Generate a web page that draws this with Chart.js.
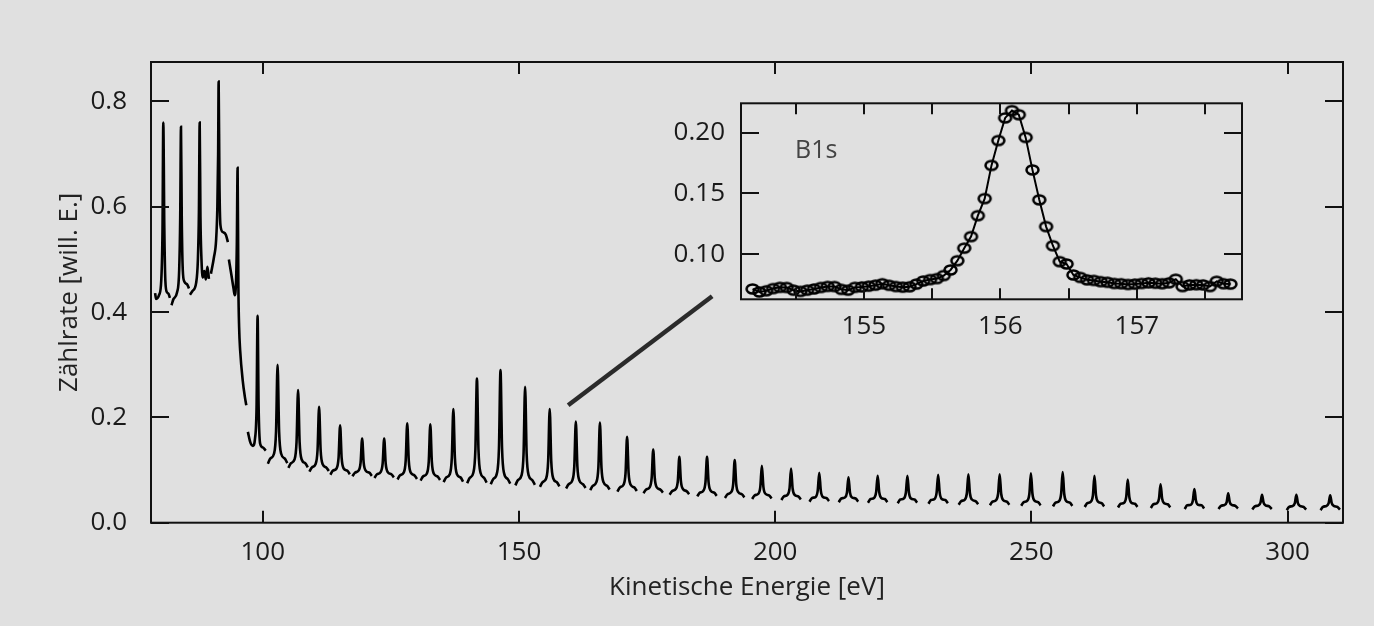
<!DOCTYPE html>
<html>
<head>
<meta charset="utf-8">
<script src="https://cdn.jsdelivr.net/npm/chart.js@4.4.1/dist/chart.umd.min.js"></script>
<style>
  body { margin: 0; background: #e0e0e0; }
  #wrap { position: relative; width: 1374px; height: 626px; background: #e0e0e0; }
  #spectrum { position: absolute; left: 0; top: 0; }
  #inset { position: absolute; left: 640px; top: 50px; }
</style>
</head>
<body>
<div id="wrap">
  <canvas id="spectrum" width="1374" height="626"></canvas>
  <canvas id="inset" width="620" height="300"></canvas>
</div>
<script>
// scans below 100 eV, each one is [energy, count rate]
const scansLow = [
  [[79.0,0.436],[79.2,0.425],[79.8,0.433],[80.2,0.46],[80.45,0.56],[80.6,0.76],[80.8,0.56],[81.0,0.46],[81.3,0.438],[81.6,0.435],[81.9,0.427]],
  [[82.2,0.413],[82.6,0.425],[83.3,0.438],[83.7,0.48],[83.9,0.58],[84.05,0.752],[84.2,0.58],[84.4,0.48],[84.7,0.458],[85.3,0.452],[85.6,0.445]],
  [[85.8,0.433],[86.3,0.44],[87.0,0.455],[87.35,0.5],[87.55,0.59],[87.7,0.76],[87.85,0.58],[88.05,0.5],[88.3,0.466],[88.6,0.478],[88.9,0.462],[89.2,0.486],[89.5,0.463]],
  [[89.9,0.473],[90.5,0.505],[90.9,0.536],[91.15,0.6],[91.3,0.7],[91.4,0.838],[91.55,0.65],[91.75,0.565],[92.2,0.552],[92.8,0.547],[93.2,0.533]],
  [[93.4,0.5],[93.9,0.47],[94.3,0.445],[94.55,0.432],[94.8,0.46],[94.95,0.53],[95.1,0.674],[95.25,0.45],[95.4,0.37],[95.6,0.327],[96.1,0.27],[96.5,0.24],[96.8,0.223]],
  [[97.1,0.1725],[97.6,0.152],[98.1,0.146],[98.5,0.16],[98.8,0.22],[99.0,0.393],[99.2,0.22],[99.5,0.15],[100.0,0.143],[100.6,0.137]]
];

// scans 100 - 200 eV
const scansMid = [
  [[101.0,0.112],[101.5,0.122],[102.2,0.131],[102.6,0.173],[102.9,0.300],[103.2,0.173],[103.6,0.131],[104.3,0.122],[104.8,0.113]],
  [[105.0,0.104],[105.5,0.113],[106.2,0.120],[106.6,0.153],[106.9,0.252],[107.2,0.153],[107.6,0.120],[108.3,0.113],[108.8,0.105]],
  [[109.1,0.097],[109.6,0.105],[110.3,0.111],[110.7,0.138],[111.0,0.220],[111.3,0.138],[111.7,0.111],[112.4,0.105],[112.9,0.098]],
  [[113.2,0.091],[113.7,0.099],[114.4,0.103],[114.8,0.123],[115.1,0.185],[115.4,0.123],[115.8,0.103],[116.5,0.099],[117.0,0.092]],
  [[117.5,0.088],[118.0,0.095],[118.7,0.099],[119.1,0.114],[119.4,0.160],[119.7,0.114],[120.1,0.099],[120.8,0.095],[121.3,0.089]],
  [[121.8,0.085],[122.3,0.092],[123.0,0.096],[123.4,0.112],[123.7,0.160],[124.0,0.112],[124.4,0.096],[125.1,0.092],[125.6,0.086]],
  [[126.3,0.082],[126.8,0.090],[127.5,0.095],[127.9,0.118],[128.2,0.189],[128.5,0.118],[128.9,0.095],[129.6,0.090],[130.1,0.083]],
  [[130.8,0.080],[131.3,0.088],[132.0,0.093],[132.4,0.116],[132.7,0.187],[133.0,0.116],[133.4,0.093],[134.1,0.088],[134.6,0.081]],
  [[135.3,0.077],[135.8,0.086],[136.5,0.092],[136.9,0.123],[137.2,0.216],[137.5,0.123],[137.9,0.092],[138.6,0.086],[139.1,0.078]],
  [[139.9,0.075],[140.4,0.085],[141.1,0.095],[141.5,0.139],[141.8,0.274],[142.1,0.139],[142.5,0.095],[143.2,0.085],[143.7,0.076]],
  [[144.5,0.073],[145.0,0.083],[145.7,0.094],[146.1,0.142],[146.4,0.290],[146.7,0.142],[147.1,0.094],[147.8,0.083],[148.3,0.074]],
  [[149.3,0.071],[149.8,0.081],[150.5,0.090],[150.9,0.131],[151.2,0.258],[151.5,0.131],[151.9,0.090],[152.6,0.081],[153.1,0.072]],
  [[154.1,0.068],[154.6,0.077],[155.3,0.084],[155.7,0.117],[156.0,0.216],[156.3,0.117],[156.7,0.084],[157.4,0.077],[157.9,0.069]],
  [[159.2,0.065],[159.7,0.073],[160.4,0.080],[160.8,0.107],[161.1,0.192],[161.4,0.107],[161.8,0.080],[162.5,0.073],[163.0,0.066]],
  [[163.9,0.062],[164.4,0.070],[165.1,0.077],[165.5,0.105],[165.8,0.190],[166.1,0.105],[166.5,0.077],[167.2,0.070],[167.7,0.063]],
  [[169.2,0.059],[169.7,0.067],[170.4,0.072],[170.8,0.094],[171.1,0.163],[171.4,0.094],[171.8,0.072],[172.5,0.067],[173.0,0.060]],
  [[174.3,0.056],[174.8,0.063],[175.5,0.067],[175.9,0.085],[176.2,0.139],[176.5,0.085],[176.9,0.067],[177.6,0.063],[178.1,0.057]],
  [[179.4,0.053],[179.9,0.060],[180.6,0.064],[181.0,0.079],[181.3,0.125],[181.6,0.079],[182.0,0.064],[182.7,0.060],[183.2,0.054]],
  [[184.8,0.050],[185.3,0.057],[186.0,0.061],[186.4,0.077],[186.7,0.125],[187.0,0.077],[187.4,0.061],[188.1,0.057],[188.6,0.051]],
  [[190.2,0.047],[190.7,0.054],[191.4,0.058],[191.8,0.073],[192.1,0.119],[192.4,0.073],[192.8,0.058],[193.5,0.054],[194.0,0.048]],
  [[195.5,0.045],[196.0,0.052],[196.7,0.055],[197.1,0.068],[197.4,0.108],[197.7,0.068],[198.1,0.055],[198.8,0.052],[199.3,0.046]]
];

// scans above 200 eV
const scansHigh = [
  [[201.2,0.043],[201.7,0.050],[202.4,0.053],[202.8,0.065],[203.1,0.103],[203.4,0.065],[203.8,0.053],[204.5,0.050],[205.0,0.044]],
  [[206.7,0.040],[207.2,0.047],[207.9,0.049],[208.3,0.061],[208.6,0.095],[208.9,0.061],[209.3,0.049],[210.0,0.047],[210.5,0.041]],
  [[212.4,0.039],[212.9,0.046],[213.6,0.048],[214.0,0.057],[214.3,0.086],[214.6,0.057],[215.0,0.048],[215.7,0.046],[216.2,0.040]],
  [[218.1,0.038],[218.6,0.045],[219.3,0.047],[219.7,0.058],[220.0,0.089],[220.3,0.058],[220.7,0.047],[221.4,0.045],[221.9,0.039]],
  [[223.9,0.037],[224.4,0.044],[225.1,0.046],[225.5,0.057],[225.8,0.089],[226.1,0.057],[226.5,0.046],[227.2,0.044],[227.7,0.038]],
  [[229.9,0.036],[230.4,0.043],[231.1,0.045],[231.5,0.057],[231.8,0.091],[232.1,0.057],[232.5,0.045],[233.2,0.043],[233.7,0.037]],
  [[235.8,0.034],[236.3,0.041],[237.0,0.044],[237.4,0.056],[237.7,0.092],[238.0,0.056],[238.4,0.044],[239.1,0.041],[239.6,0.035]],
  [[241.9,0.033],[242.4,0.040],[243.1,0.043],[243.5,0.055],[243.8,0.092],[244.1,0.055],[244.5,0.043],[245.2,0.040],[245.7,0.034]],
  [[248.0,0.032],[248.5,0.039],[249.2,0.042],[249.6,0.055],[249.9,0.094],[250.2,0.055],[250.6,0.042],[251.3,0.039],[251.8,0.033]],
  [[254.2,0.031],[254.7,0.038],[255.4,0.041],[255.8,0.055],[256.1,0.096],[256.4,0.055],[256.8,0.041],[257.5,0.038],[258.0,0.032]],
  [[260.4,0.030],[260.9,0.037],[261.6,0.040],[262.0,0.052],[262.3,0.089],[262.6,0.052],[263.0,0.040],[263.7,0.037],[264.2,0.031]],
  [[266.9,0.029],[267.4,0.036],[268.1,0.038],[268.5,0.049],[268.8,0.082],[269.1,0.049],[269.5,0.038],[270.2,0.036],[270.7,0.030]],
  [[273.3,0.028],[273.8,0.035],[274.5,0.037],[274.9,0.046],[275.2,0.073],[275.5,0.046],[275.9,0.037],[276.6,0.035],[277.1,0.029]],
  [[279.9,0.026],[280.4,0.033],[281.1,0.034],[281.5,0.042],[281.8,0.064],[282.1,0.042],[282.5,0.034],[283.2,0.033],[283.7,0.027]],
  [[286.5,0.026],[287.0,0.032],[287.7,0.034],[288.1,0.039],[288.4,0.056],[288.7,0.039],[289.1,0.034],[289.8,0.032],[290.3,0.027]],
  [[293.1,0.025],[293.6,0.031],[294.3,0.033],[294.7,0.038],[295.0,0.053],[295.3,0.038],[295.7,0.033],[296.4,0.031],[296.9,0.026]],
  [[299.8,0.024],[300.3,0.030],[301.0,0.032],[301.4,0.037],[301.7,0.053],[302.0,0.037],[302.4,0.032],[303.1,0.030],[303.6,0.025]],
  [[306.4,0.024],[306.9,0.030],[307.6,0.032],[308.0,0.037],[308.3,0.052],[308.6,0.037],[309.0,0.032],[309.7,0.030],[310.2,0.025]]
];

// pointer from the B1s scan up to the inset
const zoomLine = [[159.6, 0.223], [187.7, 0.43]];

const xTicksMain = [100, 150, 200, 250, 300];
const yTicksMain = [0, 0.2, 0.4, 0.6, 0.8];

// B1s detail scan
const b1sEnergy = [
  154.185, 154.235, 154.285, 154.335, 154.385, 154.435, 154.485, 154.535, 154.585, 154.635,
  154.685, 154.735, 154.785, 154.835, 154.885, 154.935, 154.985, 155.035, 155.085, 155.135,
  155.185, 155.235, 155.285, 155.335, 155.385, 155.435, 155.485, 155.535, 155.585, 155.635,
  155.685, 155.735, 155.785, 155.835, 155.885, 155.935, 155.985, 156.035, 156.085, 156.135,
  156.185, 156.235, 156.285, 156.335, 156.385, 156.435, 156.485, 156.535, 156.585, 156.635,
  156.685, 156.735, 156.785, 156.835, 156.885, 156.935, 156.985, 157.035, 157.085, 157.135,
  157.185, 157.235, 157.285, 157.335, 157.385, 157.435, 157.485, 157.535, 157.585, 157.635,
  157.685
];
const b1sCounts = [
  0.0715, 0.069, 0.070, 0.0718, 0.0728, 0.0727, 0.0705, 0.0695, 0.0705, 0.0715,
  0.0727, 0.0736, 0.0735, 0.0712, 0.0705, 0.0728, 0.0732, 0.0738, 0.0746, 0.0758,
  0.0745, 0.0735, 0.073, 0.0733, 0.0755, 0.078, 0.0792, 0.080, 0.0825, 0.0871,
  0.0947, 0.105, 0.1145, 0.1317, 0.1457, 0.173, 0.1934, 0.212, 0.218, 0.2146,
  0.196, 0.1693, 0.1447, 0.1227, 0.107, 0.0939, 0.092, 0.083, 0.081, 0.079,
  0.0785, 0.0775, 0.077, 0.076, 0.0758, 0.0752, 0.0755, 0.076, 0.0765, 0.0762,
  0.0758, 0.0765, 0.0795, 0.0735, 0.0748, 0.075, 0.0748, 0.0735, 0.0778, 0.0758,
  0.0755
];
const xTicksInset = [154.5, 155, 155.5, 156, 156.5, 157, 157.5];
const yTicksInset = [0.10, 0.15, 0.20];

const FONT = "'Open Sans', sans-serif";
const INK = '#1a1a1a';

// box around the plot + ticks pointing inwards on all four sides
const frameTicks = {
  id: 'frameTicks',
  afterDatasetsDraw(chart, args, opts) {
    const { ctx, chartArea: a } = chart;
    const x = chart.scales.x, y = chart.scales.y;
    ctx.save();
    ctx.strokeStyle = '#111';
    ctx.lineWidth = 2;
    ctx.beginPath();
    x.ticks.forEach(t => {
      const px = Math.round(x.getPixelForValue(t.value));
      ctx.moveTo(px, a.bottom); ctx.lineTo(px, a.bottom - opts.xLen);
      ctx.moveTo(px, a.top); ctx.lineTo(px, a.top + opts.xLen);
    });
    y.ticks.forEach(t => {
      const py = Math.round(y.getPixelForValue(t.value));
      ctx.moveTo(a.left, py); ctx.lineTo(a.left + opts.yLen, py);
      ctx.moveTo(a.right, py); ctx.lineTo(a.right - opts.yLen, py);
    });
    ctx.stroke();
    ctx.strokeRect(a.left, a.top, a.right - a.left, a.bottom - a.top);
    if (opts.label) {
      ctx.fillStyle = '#444';
      ctx.font = '25px ' + FONT;
      ctx.textBaseline = 'alphabetic';
      ctx.fillText(opts.label, a.left + opts.labelX, a.top + opts.labelY);
    }
    ctx.restore();
  }
};

// open ellipse used as marker in the inset
function ringMarker() {
  const c = document.createElement('canvas');
  c.width = 17; c.height = 14;
  const g = c.getContext('2d');
  g.strokeStyle = '#000';
  g.lineWidth = 2.5;
  g.beginPath();
  g.ellipse(8.5, 7, 6, 4.6, 0, 0, Math.PI * 2);
  g.stroke();
  return c;
}

function fixedTicks(values) {
  return scale => { scale.ticks = values.map(v => ({ value: v })); };
}

function drawSpectrum() {
  const scanSets = scansLow.concat(scansMid, scansHigh).map(scan => ({
    data: scan.map(p => ({ x: p[0], y: p[1] })),
    showLine: true,
    borderColor: '#000',
    borderWidth: 2.6,
    pointRadius: 0,
    cubicInterpolationMode: 'monotone'
  }));
  scanSets.push({
    data: zoomLine.map(p => ({ x: p[0], y: p[1] })),
    showLine: true,
    borderColor: '#2b2b2b',
    borderWidth: 4.5,
    pointRadius: 0
  });

  new Chart(document.getElementById('spectrum'), {
    type: 'scatter',
    data: { datasets: scanSets },
    plugins: [frameTicks],
    options: {
      responsive: false,
      animation: false,
      events: [],
      layout: { padding: { top: 62, right: 31, left: 0, bottom: 0 } },
      plugins: {
        legend: { display: false },
        tooltip: { enabled: false },
        frameTicks: { xLen: 12, yLen: 18 }
      },
      scales: {
        x: {
          type: 'linear',
          min: 78.2,
          max: 310.8,
          afterBuildTicks: fixedTicks(xTicksMain),
          afterFit: s => { s.height = 103.3; },
          grid: { display: false, drawTicks: false },
          border: { display: false },
          ticks: { color: INK, font: { family: FONT, size: 26 }, padding: 14, maxRotation: 0, autoSkip: false },
          title: {
            display: true,
            text: 'Kinetische Energie [eV]',
            color: '#222',
            font: { family: FONT, size: 26 },
            padding: { top: 0, bottom: 23 }
          }
        },
        y: {
          min: 0,
          max: 0.875,
          afterBuildTicks: fixedTicks(yTicksMain),
          afterFit: s => { s.width = 151; },
          grid: { display: false, drawTicks: false },
          border: { display: false },
          ticks: { color: INK, font: { family: FONT, size: 26 }, padding: 24, callback: v => v.toFixed(1) },
          title: {
            display: true,
            text: 'Zählrate [will. E.]',
            color: '#222',
            font: { family: FONT, size: 26 },
            padding: { top: 54, bottom: 0 }
          }
        }
      }
    }
  });
}

function drawInset() {
  new Chart(document.getElementById('inset'), {
    type: 'scatter',
    data: {
      datasets: [{
        data: b1sEnergy.map((e, i) => ({ x: e, y: b1sCounts[i] })),
        showLine: true,
        borderColor: '#000',
        borderWidth: 2,
        pointStyle: ringMarker(),
        pointRadius: 6
      }]
    },
    plugins: [frameTicks],
    options: {
      responsive: false,
      animation: false,
      events: [],
      layout: { padding: { top: 53.3, right: 18, left: 0, bottom: 0 } },
      plugins: {
        legend: { display: false },
        tooltip: { enabled: false },
        frameTicks: { xLen: 11, yLen: 18, label: 'B1s', labelX: 54, labelY: 55 }
      },
      scales: {
        x: {
          type: 'linear',
          min: 154.1,
          max: 157.77,
          afterBuildTicks: fixedTicks(xTicksInset),
          afterFit: s => { s.height = 50.7; },
          grid: { display: false, drawTicks: false },
          border: { display: false },
          ticks: {
            color: INK, font: { family: FONT, size: 26 }, padding: 12, maxRotation: 0, autoSkip: false,
            callback: v => Number.isInteger(v) ? String(v) : ''
          }
        },
        y: {
          min: 0.063,
          max: 0.224,
          afterBuildTicks: fixedTicks(yTicksInset),
          afterFit: s => { s.width = 101; },
          grid: { display: false, drawTicks: false },
          border: { display: false },
          ticks: { color: INK, font: { family: FONT, size: 26 }, padding: 16, callback: v => v.toFixed(2) }
        }
      }
    }
  });
}

document.fonts.load("26px 'Open Sans'").then(() => {
  drawSpectrum();
  drawInset();
});
</script>
</body>
</html>
